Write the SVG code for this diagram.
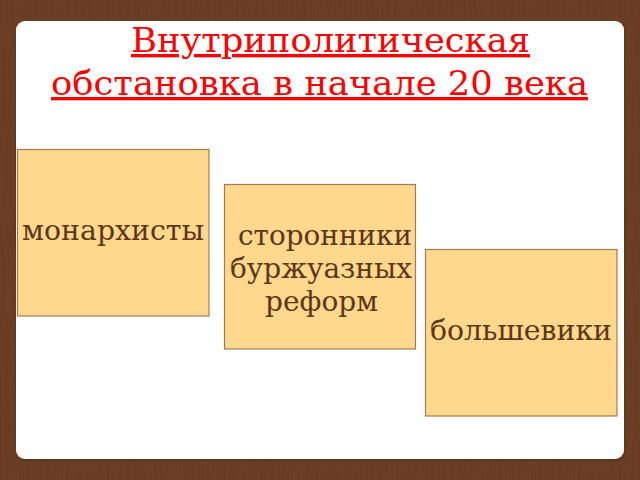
<svg xmlns="http://www.w3.org/2000/svg" width="640" height="480" viewBox="0 0 640 480">
  <defs>
    <filter id="grain" x="0" y="0" width="100%" height="100%">
      <feTurbulence type="fractalNoise" baseFrequency="0.5 0.015" numOctaves="2" seed="3" result="n"/>
      <feColorMatrix in="n" type="matrix" values="0 0 0 0 0.30  0 0 0 0 0.16  0 0 0 0 0.07  0 0 0 0.18 0"/>
    </filter>
    <filter id="shadow" x="-5%" y="-5%" width="110%" height="110%">
      <feDropShadow dx="0.5" dy="1" stdDeviation="1" flood-color="#2a160a" flood-opacity="0.4"/>
    </filter>
  </defs>
  <style>
    .box { fill: #fed88c; stroke: #a67a55; stroke-width: 1.2; }
    .lbl { font-family: "DejaVu Serif", "Liberation Serif", serif; font-size: 28px; fill: #5e3519; }
    .title { font-family: "DejaVu Serif", "Liberation Serif", serif; font-size: 33px; fill: #ff0000; text-decoration: underline; }
  </style>
  <rect x="0" y="0" width="640" height="480" fill="#653920"/>
  <rect x="0" y="0" width="640" height="480" filter="url(#grain)"/>
  <rect x="16" y="21" width="608" height="438" rx="9" ry="9" fill="#ffffff" filter="url(#shadow)"/>

  <g id="title">
    <text class="title" x="131" y="52" textLength="399" lengthAdjust="spacingAndGlyphs">Внутриполитическая</text>
    <text class="title" x="51" y="95" textLength="537" lengthAdjust="spacingAndGlyphs">обстановка в начале 20 века</text>
  </g>

  <g id="connectors"></g>

  <g id="node-monarchists">
    <rect class="box" x="17.5" y="149.5" width="191.5" height="166.5"/>
    <text class="lbl" x="22" y="240" textLength="182" lengthAdjust="spacingAndGlyphs">монархисты</text>
  </g>

  <g id="node-reformers">
    <rect class="box" x="224.5" y="184.5" width="191" height="164.5"/>
    <text class="lbl" x="238" y="245" textLength="174" lengthAdjust="spacingAndGlyphs">сторонники</text>
    <text class="lbl" x="230" y="278" textLength="182" lengthAdjust="spacingAndGlyphs">буржуазных</text>
    <text class="lbl" x="265" y="311" textLength="113" lengthAdjust="spacingAndGlyphs">реформ</text>
  </g>

  <g id="node-bolsheviks">
    <rect class="box" x="425.5" y="249.5" width="191.5" height="166.5"/>
    <text class="lbl" x="430" y="340" textLength="182" lengthAdjust="spacingAndGlyphs">большевики</text>
  </g>
</svg>
